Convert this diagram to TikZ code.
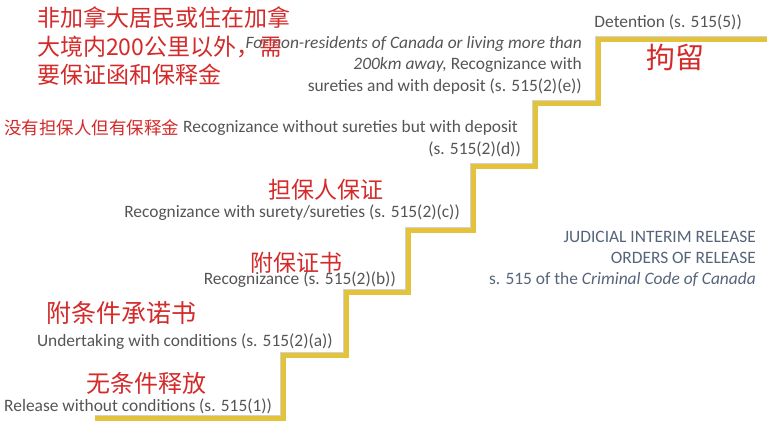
\documentclass[tikz,border=0pt]{standalone}
\usepackage{fontspec}
\setmainfont{Carlito}
\newfontfamily\cjk{Noto Sans CJK SC}
\definecolor{txt}{HTML}{555555}
\definecolor{zhred}{HTML}{D42A2A}
\definecolor{stairy}{HTML}{E3C23C}
\definecolor{bluegray}{HTML}{56657A}
\begin{document}
\begin{tikzpicture}[x=1pt,y=-1pt,
  en/.style={text=txt, font=\fontsize{17.4}{20}\selectfont, inner sep=0pt},
  zh/.style={text=zhred, font=\cjk\fontsize{23}{27}\selectfont, inner sep=0pt},
  ttl/.style={text=bluegray, font=\fontsize{17.4}{20}\selectfont, inner sep=0pt, anchor=east}]
\useasboundingbox[fill=white] (0,0) rectangle (767,432);
% staircase
\coordinate (p0) at (95,418);
\coordinate (p1) at (283,418);
\coordinate (p2) at (283,355);
\coordinate (p3) at (346,355);
\coordinate (p4) at (346,292);
\coordinate (p5) at (408,292);
\coordinate (p6) at (408,230);
\coordinate (p7) at (473,230);
\coordinate (p8) at (473,166);
\coordinate (p9) at (535,166);
\coordinate (p10) at (535,103);
\coordinate (p11) at (598,103);
\coordinate (p12) at (598,39);
\coordinate (p13) at (767,39);
\draw[black!35, opacity=0.5, line width=6pt, shift={(2,3)}] (p0) -- (p1) -- (p2) -- (p3) -- (p4) -- (p5) -- (p6) -- (p7) -- (p8) -- (p9) -- (p10) -- (p11) -- (p12) -- (p13);
\draw[stairy, line width=5pt] (p0) -- (p1) -- (p2) -- (p3) -- (p4) -- (p5) -- (p6) -- (p7) -- (p8) -- (p9) -- (p10) -- (p11) -- (p12) -- (p13);
% top-right
\node[en, anchor=east] (det) at (742,22) {Detention (s. 515(5))};
\node[zh, font=\cjk\fontsize{29}{32}\selectfont, anchor=west] (jl) at (646,57) {拘留};
% level e
\node[en, anchor=east] (e1) at (582,44) {\itshape For non-residents of Canada or living more than};
\node[en, anchor=east] (e2) at (582,65) {\textit{200km away,} Recognizance with};
\node[en, anchor=east] (e3) at (582,87) {sureties and with deposit (s. 515(2)(e))};
\node[zh, anchor=west] (ze1) at (37,18) {非加拿大居民或住在加拿};
\node[zh, anchor=west] (ze2) at (37,47) {大境内200公里以外，需};
\node[zh, anchor=west] (ze3) at (37,75) {要保证函和保释金};
% level d
\node[zh, font=\cjk\fontsize{17.5}{20}\selectfont, anchor=west] (zd) at (4,128) {没有担保人但有保释金};
\node[en, anchor=west] (d1) at (183,128) {Recognizance without sureties but with deposit};
\node[en, anchor=east] (d2) at (521,149) {(s. 515(2)(d))};
% level c
\node[zh, anchor=west] (zc) at (268,190) {担保人保证};
\node[en, anchor=east] (c1) at (460,213) {Recognizance with surety/sureties (s. 515(2)(c))};
% level b
\node[en, anchor=east] (b1) at (396,280) {Recognizance (s. 515(2)(b))};
\node[zh, anchor=west] (zb) at (250,263) {附保证书};
% level a
\node[zh, font=\cjk\fontsize{25}{28}\selectfont, anchor=west] (za) at (46,313) {附条件承诺书};
\node[en, anchor=east] (a1) at (333,342) {Undertaking with conditions (s. 515(2)(a))};
% level 1
\node[zh, font=\cjk\fontsize{24}{27}\selectfont, anchor=west] (z1) at (86,383) {无条件释放};
\node[en, anchor=west] (r1) at (4,406) {Release without conditions (s. 515(1))};
% title
\node[ttl] (t1) at (756,237) {JUDICIAL INTERIM RELEASE};
\node[ttl] (t2) at (756,258) {ORDERS OF RELEASE};
\node[ttl] (t3) at (756,279) {s. 515 of the \textit{Criminal Code of Canada}};
\end{tikzpicture}
\end{document}
